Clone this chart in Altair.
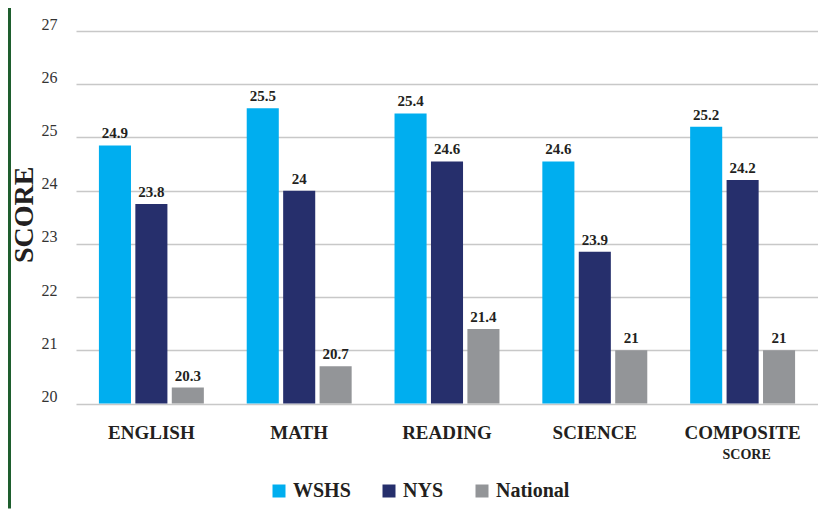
import altair as alt
import pandas as pd

subjects = ["ENGLISH", "MATH", "READING", "SCIENCE", "COMPOSITE"]
groups = ["WSHS", "NYS", "National"]
colors = ["#00aeef", "#262f6c", "#939598"]

# bar heights as drawn in the picture
wshs = [24.85, 25.55, 25.45, 24.55, 25.2]
nys = [23.75, 24.0, 24.55, 22.85, 24.2]
national = [20.3, 20.7, 21.4, 21.0, 21.0]

# value labels as printed
wshs_lbl = ["24.9", "25.5", "25.4", "24.6", "25.2"]
nys_lbl = ["23.8", "24", "24.6", "23.9", "24.2"]
national_lbl = ["20.3", "20.7", "21.4", "21", "21"]

y_ticks = [20, 21, 22, 23, 24, 25, 26, 27]

rows = []
for g, vals, lbls in zip(groups, [wshs, nys, national], [wshs_lbl, nys_lbl, national_lbl]):
    for s, v, l in zip(subjects, vals, lbls):
        rows.append({"subject": s, "group": g, "value": v, "label": l})
df = pd.DataFrame(rows)

W = 742
H = 372.5
FONT = "Liberation Serif"
TXT = "#231f20"

x_enc = alt.X("subject:N", sort=subjects,
              scale=alt.Scale(paddingInner=0.29, paddingOuter=0.155),
              axis=alt.Axis(title=None, labelAngle=0, labelFont=FONT, labelFontWeight="bold",
                            labelFontSize=19, labelColor=TXT, labelPadding=20,
                            ticks=False, domain=False, grid=False))
xo_enc = alt.XOffset("group:N", sort=groups, scale=alt.Scale(paddingInner=0.12, paddingOuter=0))
y_scale = alt.Scale(domain=[20, 27], nice=False, zero=False)

bars = alt.Chart(df).mark_bar().encode(
    x=x_enc,
    xOffset=xo_enc,
    y=alt.Y("value:Q", scale=y_scale,
            axis=alt.Axis(title="SCORE", values=y_ticks, format="d", labelFont=FONT,
                          labelFontSize=16, labelColor="#333333", labelPadding=19,
                          labelBaseline="alphabetic", labelOffset=-2,
                          ticks=False, domain=False, gridColor="#c8c8c8", gridWidth=1.5,
                          titleFont=FONT, titleFontSize=28, titleFontWeight="bold",
                          titleColor=TXT, titleAngle=-90, titleX=-44, titleY=H / 2 - 3,
                          titleBaseline="alphabetic", titleAlign="center")),
    y2=alt.datum(20),
    color=alt.Color("group:N", sort=groups,
                    scale=alt.Scale(domain=groups, range=colors),
                    legend=alt.Legend(title=None, orient="none", direction="horizontal",
                                      legendX=193, legendY=450, padding=0,
                                      symbolType="square", symbolSize=169, symbolStrokeWidth=0,
                                      labelFont=FONT, labelFontWeight="bold", labelFontSize=20,
                                      labelColor=TXT, labelOffset=4, columnPadding=28)),
)

labels = alt.Chart(df).mark_text(font=FONT, fontWeight="bold", fontSize=15, color=TXT,
                                 baseline="alphabetic", dy=-7).encode(
    x=alt.X("subject:N", sort=subjects),
    xOffset=alt.XOffset("group:N", sort=groups),
    y=alt.Y("value:Q", scale=y_scale),
    text="label:N",
)

sub_df = pd.DataFrame({"subject": ["COMPOSITE"], "sub": ["SCORE"]})
sub = alt.Chart(sub_df).mark_text(font=FONT, fontWeight="bold", fontSize=14, color=TXT,
                                  baseline="alphabetic", dx=4).encode(
    x=alt.X("subject:N", sort=subjects),
    y=alt.value(H + 55.5),
    text="sub:N",
)

border = alt.Chart(pd.DataFrame({"k": [0]})).mark_rule(color="#1e5e2e", strokeWidth=3).encode(
    x=alt.value(-66.5), y=alt.value(-23), y2=alt.value(H + 105),
)

chart = alt.layer(bars, labels, sub, border).properties(
    width=W, height=H,
    autosize=alt.AutoSizeParams(type="none"),
    padding={"left": 68, "top": 23, "right": 0, "bottom": 105},
).configure(font=FONT).configure_view(stroke=None)

chart.save("out.html", embed_options={"renderer": "svg", "actions": False})
